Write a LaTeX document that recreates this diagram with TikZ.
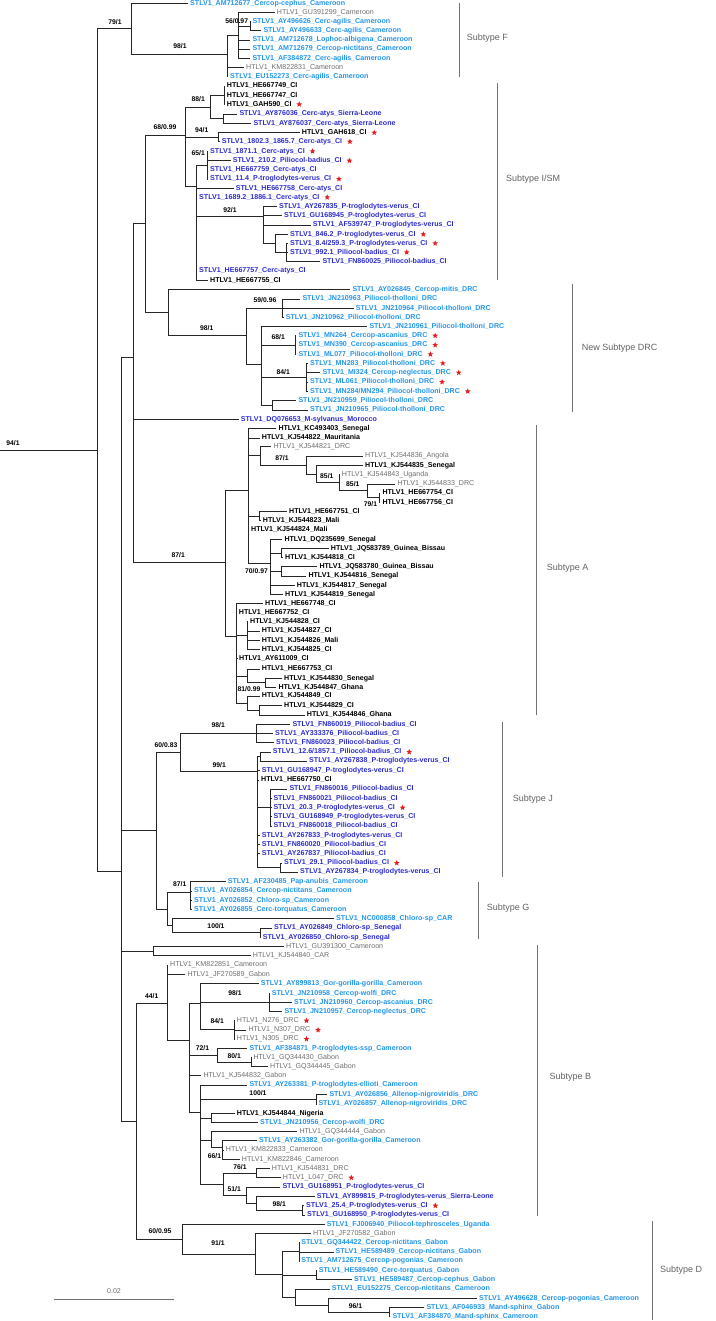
\documentclass[tikz,border=0pt]{standalone}
\usepackage{fontspec}
\setmainfont{Liberation Sans}
\usepackage{xcolor}
\usepackage{tikz}
\usetikzlibrary{shapes.geometric}
\definecolor{colLB}{RGB}{36,150,235}
\definecolor{colDB}{RGB}{45,45,205}
\definecolor{colG}{RGB}{110,110,110}
\definecolor{colStar}{RGB}{230,30,30}
\definecolor{colBar}{RGB}{115,115,115}
\tikzset{
  leaf/.style={anchor=west, inner xsep=2pt, inner ysep=0pt, text height=5.1pt, text depth=1.3pt,
    font=\fontsize{7.1}{8}\selectfont\bfseries},
  stlvL/.style={leaf, text=colLB},
  stlvD/.style={leaf, text=colDB},
  htlvK/.style={leaf, text=black},
  htlvG/.style={leaf, text=colG, font=\fontsize{7.1}{8}\selectfont},
  starmk/.style={star, star points=5, star point ratio=2.3, fill=colStar, draw=none,
    minimum size=6pt, inner sep=0pt},
  starred/.style={label={[starmk, label distance=3.5pt]right:{}}},
  branch/.style={line width=0.8pt, black!85},
  boot/.style={inner sep=0pt, font=\fontsize{6.8}{7}\selectfont\bfseries},
  cladebar/.style={line width=1pt, colBar},
  cladename/.style={anchor=west, inner sep=0pt, text=colBar!85!black, font=\fontsize{9}{10}\selectfont},
}

\begin{document}
\begin{tikzpicture}[x=1pt,y=-1pt]
  \useasboundingbox (0,0) rectangle (715,1321);

  % subtype F
  \node[stlvL] (AM712677) at (188,3.3) {STLV1\_AM712677\_Cercop-cephus\_Cameroon};
  \node[htlvG] (GU391299) at (274.7,12.3) {HTLV1\_GU391299\_Cameroon};
  \node[stlvL] (AY496626) at (250.3,21.7) {STLV1\_AY496626\_Cerc-agilis\_Cameroon};
  \node[stlvL] (AY496633) at (261.3,30.7) {STLV1\_AY496633\_Cerc-agilis\_Cameroon};
  \node[stlvL] (AM712678) at (250.3,40) {STLV1\_AM712678\_Lophoc-albigena\_Cameroon};
  \node[stlvL] (AM712679) at (250.3,49) {STLV1\_AM712679\_Cercop-nictitans\_Cameroon};
  \node[stlvL] (AF384872) at (250.3,58.3) {STLV1\_AF384872\_Cerc-agilis\_Cameroon};
  \node[htlvG] (KM822831) at (244,67.3) {HTLV1\_KM822831\_Cameroon};
  \node[stlvL] (EU152273) at (228,76.7) {STLV1\_EU152273\_Cerc-agilis\_Cameroon};

  % subtype I/SM
  \node[htlvK] (HE667749) at (224.7,86) {HTLV1\_HE667749\_CI};
  \node[htlvK] (HE667747) at (224.7,95.3) {HTLV1\_HE667747\_CI};
  \node[htlvK, starred] (GAH590) at (224.7,104.3) {HTLV1\_GAH590\_CI};
  \node[stlvD] (AY876036) at (237.3,114) {STLV1\_AY876036\_Cerc-atys\_Sierra-Leone};
  \node[stlvD] (AY876037) at (251.3,123.3) {STLV1\_AY876037\_Cerc-atys\_Sierra-Leone};
  \node[htlvK, starred] (GAH618) at (299.7,132.7) {HTLV1\_GAH618\_CI};
  \node[stlvD, starred] (s1802) at (219.7,141.7) {STLV1\_1802.3\_1865.7\_Cerc-atys\_CI};
  \node[stlvD, starred] (s1871) at (208,151.3) {STLV1\_1871.1\_Cerc-atys\_CI};
  \node[stlvD, starred] (s210) at (230.7,160.7) {STLV1\_210.2\_Piliocol-badius\_CI};
  \node[stlvD] (HE667759) at (208,170) {STLV1\_HE667759\_Cerc-atys\_CI};
  \node[stlvD, starred] (s11) at (208,179) {STLV1\_11.4\_P-troglodytes-verus\_CI};
  \node[stlvD] (HE667758) at (233.7,188.3) {STLV1\_HE667758\_Cerc-atys\_CI};
  \node[stlvD, starred] (s1689) at (197,197.3) {STLV1\_1689.2\_1886.1\_Cerc-atys\_CI};
  \node[stlvD] (AY267835) at (277,206.7) {STLV1\_AY267835\_P-troglodytes-verus\_CI};
  \node[stlvD] (GU168945) at (282,215.7) {STLV1\_GU168945\_P-troglodytes-verus\_CI};
  \node[stlvD] (AF539747) at (310.7,225) {STLV1\_AF539747\_P-troglodytes-verus\_CI};
  \node[stlvD, starred] (s846) at (288,234.3) {STLV1\_846.2\_P-troglodytes-verus\_CI};
  \node[stlvD, starred] (s8) at (288,243.3) {STLV1\_8.4/259.3\_P-troglodytes-verus\_CI};
  \node[stlvD, starred] (s992) at (288,252.3) {STLV1\_992.1\_Piliocol-badius\_CI};
  \node[stlvD] (FN860025) at (320.3,261.7) {STLV1\_FN860025\_Piliocol-badius\_CI};
  \node[stlvD] (HE667757) at (197,271) {STLV1\_HE667757\_Cerc-atys\_CI};
  \node[htlvK] (HE667755) at (208,280.7) {HTLV1\_HE667755\_CI};

  % new subtype DRC
  \node[stlvL] (AY026845) at (350.3,289.3) {STLV1\_AY026845\_Cercop-mitis\_DRC};
  \node[stlvL] (JN210963) at (300.3,299) {STLV1\_JN210963\_Piliocol-tholloni\_DRC};
  \node[stlvL] (JN210964) at (353.7,308.3) {STLV1\_JN210964\_Piliocol-tholloni\_DRC};
  \node[stlvL] (JN210962) at (283.7,317.3) {STLV1\_JN210962\_Piliocol-tholloni\_DRC};
  \node[stlvL] (JN210961) at (367.3,326.7) {STLV1\_JN210961\_Piliocol-tholloni\_DRC};
  \node[stlvL, starred] (MN264) at (296.3,335.7) {STLV1\_MN264\_Cercop-ascanius\_DRC};
  \node[stlvL, starred] (MN390) at (296.3,345) {STLV1\_MN390\_Cercop-ascanius\_DRC};
  \node[stlvL, starred] (ML077) at (296.3,354.3) {STLV1\_ML077\_Piliocol-tholloni\_DRC};
  \node[stlvL, starred] (MN283) at (308,363.3) {STLV1\_MN283\_Piliocol-tholloni\_DRC};
  \node[stlvL, starred] (MI324) at (320.3,372.7) {STLV1\_MI324\_Cercop-neglectus\_DRC};
  \node[stlvL, starred] (ML061) at (308,382) {STLV1\_ML061\_Piliocol-tholloni\_DRC};
  \node[stlvL, starred] (MN284) at (308,391.3) {STLV1\_MN284/MN294\_Piliocol-tholloni\_DRC};
  \node[stlvL] (JN210959) at (296.3,400.7) {STLV1\_JN210959\_Piliocol-tholloni\_DRC};
  \node[stlvL] (JN210965) at (308,410) {STLV1\_JN210965\_Piliocol-tholloni\_DRC};
  \node[stlvD] (DQ076653) at (238.7,419.3) {STLV1\_DQ076653\_M-sylvanus\_Morocco};

  % subtype A
  \node[htlvK] (KC493403) at (276.3,428.7) {HTLV1\_KC493403\_Senegal};
  \node[htlvK] (KJ544822) at (259.7,438) {HTLV1\_KJ544822\_Mauritania};
  \node[htlvG] (KJ544821) at (271.3,446.7) {HTLV1\_KJ544821\_DRC};
  \node[htlvG] (KJ544836) at (363,456) {HTLV1\_KJ544836\_Angola};
  \node[htlvK] (KJ544835) at (363,465.3) {HTLV1\_KJ544835\_Senegal};
  \node[htlvG] (KJ544843) at (339.7,474.7) {HTLV1\_KJ544843\_Uganda};
  \node[htlvG] (KJ544833) at (395.3,484) {HTLV1\_KJ544833\_DRC};
  \node[htlvK] (HE667754) at (380.3,493) {HTLV1\_HE667754\_CI};
  \node[htlvK] (HE667756) at (380.3,502.3) {HTLV1\_HE667756\_CI};
  \node[htlvK] (HE667751) at (287,511.3) {HTLV1\_HE667751\_CI};
  \node[htlvK] (KJ544823) at (260.7,520.7) {HTLV1\_KJ544823\_Mali};
  \node[htlvK] (KJ544824) at (249,530) {HTLV1\_KJ544824\_Mali};
  \node[htlvK] (DQ235699) at (282.3,539.3) {HTLV1\_DQ235699\_Senegal};
  \node[htlvK] (JQ583789) at (328.7,548.7) {HTLV1\_JQ583789\_Guinea\_Bissau};
  \node[htlvK] (KJ544818) at (283,557.3) {HTLV1\_KJ544818\_CI};
  \node[htlvK] (JQ583780) at (317.3,566.7) {HTLV1\_JQ583780\_Guinea\_Bissau};
  \node[htlvK] (KJ544816) at (306.3,576) {HTLV1\_KJ544816\_Senegal};
  \node[htlvK] (KJ544817) at (294.7,585.3) {HTLV1\_KJ544817\_Senegal};
  \node[htlvK] (KJ544819) at (283,594.3) {HTLV1\_KJ544819\_Senegal};
  \node[htlvK] (HE667748) at (263,603.3) {HTLV1\_HE667748\_CI};
  \node[htlvK] (HE667752) at (236.7,612.7) {HTLV1\_HE667752\_CI};
  \node[htlvK] (KJ544828) at (248,621.7) {HTLV1\_KJ544828\_CI};
  \node[htlvK] (KJ544827) at (259.7,631) {HTLV1\_KJ544827\_CI};
  \node[htlvK] (KJ544826) at (259.7,640.3) {HTLV1\_KJ544826\_Mali};
  \node[htlvK] (KJ544825) at (259.7,649.3) {HTLV1\_KJ544825\_CI};
  \node[htlvK] (AY611009) at (237,658.3) {HTLV1\_AY611009\_CI};
  \node[htlvK] (HE667753) at (259.7,669) {HTLV1\_HE667753\_CI};
  \node[htlvK] (KJ544830) at (282,678.3) {HTLV1\_KJ544830\_Senegal};
  \node[htlvK] (KJ544847) at (276.3,687.3) {HTLV1\_KJ544847\_Ghana};
  \node[htlvK] (KJ544849) at (259.7,696) {HTLV1\_KJ544849\_CI};
  \node[htlvK] (KJ544829) at (282,705.7) {HTLV1\_KJ544829\_CI};
  \node[htlvK] (KJ544846) at (304.7,715) {HTLV1\_KJ544846\_Ghana};

  % subtype J
  \node[stlvD] (FN860019) at (290.3,724.3) {STLV1\_FN860019\_Piliocol-badius\_CI};
  \node[stlvD] (AY333376) at (273,733.3) {STLV1\_AY333376\_Piliocol-badius\_CI};
  \node[stlvD] (FN860023) at (274,742.7) {STLV1\_FN860023\_Piliocol-badius\_CI};
  \node[stlvD, starred] (s12) at (270.7,752) {STLV1\_12.6/1857.1\_Piliocol-badius\_CI};
  \node[stlvD] (AY267838) at (307,761) {STLV1\_AY267838\_P-troglodytes-verus\_CI};
  \node[stlvD] (GU168947) at (259.7,770.5) {STLV1\_GU168947\_P-troglodytes-verus\_CI};
  \node[htlvK] (HE667750) at (259,780) {HTLV1\_HE667750\_CI};
  \node[stlvD] (FN860016) at (287.3,789) {STLV1\_FN860016\_Piliocol-badius\_CI};
  \node[stlvD] (FN860021) at (271.3,798.3) {STLV1\_FN860021\_Piliocol-badius\_CI};
  \node[stlvD, starred] (s20) at (271.3,807.7) {STLV1\_20.3\_P-troglodytes-verus\_CI};
  \node[stlvD] (GU168949) at (271.3,816.7) {STLV1\_GU168949\_P-troglodytes-verus\_CI};
  \node[stlvD] (FN860018) at (271.3,826) {STLV1\_FN860018\_Piliocol-badius\_CI};
  \node[stlvD] (AY267833) at (259.7,835.3) {STLV1\_AY267833\_P-troglodytes-verus\_CI};
  \node[stlvD] (FN860020) at (259.7,844.7) {STLV1\_FN860020\_Piliocol-badius\_CI};
  \node[stlvD] (AY267837) at (259.7,853.7) {STLV1\_AY267837\_Piliocol-badius\_CI};
  \node[stlvD, starred] (s29) at (282,863) {STLV1\_29.1\_Piliocol-badius\_CI};
  \node[stlvD] (AY267834) at (298,872) {STLV1\_AY267834\_P-troglodytes-verus\_CI};

  % subtype G
  \node[stlvL] (AF230485) at (225.7,881.7) {STLV1\_AF230485\_Pap-anubis\_Cameroon};
  \node[stlvL] (AY026854) at (192,891) {STLV1\_AY026854\_Cercop-nictitans\_Cameroon};
  \node[stlvL] (AY026852) at (192,900.3) {STLV1\_AY026852\_Chloro-sp\_Cameroon};
  \node[stlvL] (AY026855) at (192,909.3) {STLV1\_AY026855\_Cerc-torquatus\_Cameroon};
  \node[stlvL] (NC000858) at (334,918.7) {STLV1\_NC000858\_Chloro-sp\_CAR};
  \node[stlvD] (AY026849) at (272,928) {STLV1\_AY026849\_Chloro-sp\_Senegal};
  \node[stlvD] (AY026850) at (260.7,937.3) {STLV1\_AY026850\_Chloro-sp\_Senegal};

  % subtype B
  \node[htlvG] (GU391300) at (284,946.7) {HTLV1\_GU391300\_Cameroon};
  \node[htlvG] (KJ544840) at (250.7,955.7) {HTLV1\_KJ544840\_CAR};
  \node[htlvG] (KM822851) at (168,965) {HTLV1\_KM822851\_Cameroon};
  \node[htlvG] (JF270589) at (185.3,974.3) {HTLV1\_JF270589\_Gabon};
  \node[stlvL] (AY899813) at (258.7,983.7) {STLV1\_AY899813\_Gor-gorilla-gorilla\_Cameroon};
  \node[stlvL] (JN210958) at (269.7,993.3) {STLV1\_JN210958\_Cercop-wolfi\_DRC};
  \node[stlvL] (JN210960) at (292,1002.3) {STLV1\_JN210960\_Cercop-ascanius\_DRC};
  \node[stlvL] (JN210957) at (282.3,1011.7) {STLV1\_JN210957\_Cercop-neglectus\_DRC};
  \node[htlvG, starred] (N276) at (234.7,1020.7) {HTLV1\_N276\_DRC};
  \node[htlvG, starred] (N307) at (246.3,1030) {HTLV1\_N307\_DRC};
  \node[htlvG, starred] (N305) at (234.7,1039) {HTLV1\_N305\_DRC};
  \node[stlvL] (AF384871) at (247.3,1048.3) {STLV1\_AF384871\_P-troglodytes-ssp\_Cameroon};
  \node[htlvG] (GQ344430) at (251.3,1057.3) {HTLV1\_GQ344430\_Gabon};
  \node[htlvG] (GQ344445) at (268,1066.7) {HTLV1\_GQ344445\_Gabon};
  \node[htlvG] (KJ544832) at (201.3,1075.7) {HTLV1\_KJ544832\_Gabon};
  \node[stlvL] (AY263381) at (247.3,1085) {STLV1\_AY263381\_P-troglodytes-ellioti\_Cameroon};
  \node[stlvL] (AY026856) at (327.3,1094.3) {STLV1\_AY026856\_Allenop-nigroviridis\_DRC};
  \node[stlvL] (AY026857) at (316.3,1104) {STLV1\_AY026857\_Allenop-nigroviridis\_DRC};
  \node[htlvK] (KJ544844) at (234.7,1113.3) {HTLV1\_KJ544844\_Nigeria};
  \node[stlvL] (JN210956) at (258,1122.7) {STLV1\_JN210956\_Cercop-wolfi\_DRC};
  \node[htlvG] (GQ344444) at (297.3,1131.7) {HTLV1\_GQ344444\_Gabon};
  \node[stlvL] (AY263382) at (257,1140.7) {STLV1\_AY263382\_Gor-gorilla-gorilla\_Cameroon};
  \node[htlvG] (KM822833) at (223.7,1150) {HTLV1\_KM822833\_Cameroon};
  \node[htlvG] (KM822846) at (239.7,1159.3) {HTLV1\_KM822846\_Cameroon};
  \node[htlvG] (KJ544831) at (269.7,1168.3) {HTLV1\_KJ544831\_DRC};
  \node[htlvG, starred] (L047) at (280.7,1177.7) {HTLV1\_L047\_DRC};
  \node[stlvD] (GU168951) at (280.3,1187) {STLV1\_GU168951\_P-troglodytes-verus\_CI};
  \node[stlvD] (AY899815) at (314.7,1196.3) {STLV1\_AY899815\_P-troglodytes-verus\_Sierra-Leone};
  \node[stlvD, starred] (s25) at (304,1205.7) {STLV1\_25.4\_P-troglodytes-verus\_CI};
  \node[stlvD] (GU168950) at (305,1215) {STLV1\_GU168950\_P-troglodytes-verus\_CI};

  % subtype D
  \node[stlvL] (FJ006940) at (324.6,1224.3) {STLV1\_FJ006940\_Piliocol-tephrosceles\_Uganda};
  \node[htlvG] (JF270582) at (311,1233.3) {HTLV1\_JF270582\_Gabon};
  \node[stlvL] (GQ344422) at (299.1,1242.7) {STLV1\_GQ344422\_Cercop-nictitans\_Gabon};
  \node[stlvL] (HE589489) at (333.5,1252) {STLV1\_HE589489\_Cercop-nictitans\_Gabon};
  \node[stlvL] (AM712675) at (299.1,1261) {STLV1\_AM712675\_Cercop-pogonias\_Cameroon};
  \node[stlvL] (HE589490) at (316.7,1270.3) {STLV1\_HE589490\_Cerc-torquatus\_Gabon};
  \node[stlvL] (HE589487) at (352,1279.7) {STLV1\_HE589487\_Cercop-cephus\_Gabon};
  \node[stlvL] (EU152275) at (329.6,1289) {STLV1\_EU152275\_Cercop-nictitans\_Cameroon};
  \node[stlvL] (AY496628) at (477,1298.3) {STLV1\_AY496628\_Cercop-pogonias\_Cameroon};
  \node[stlvL] (AF046933) at (424.3,1307.7) {STLV1\_AF046933\_Mand-sphinx\_Gabon};
  \node[stlvL] (AF384870) at (390.3,1316.7) {STLV1\_AF384870\_Mand-sphinx\_Cameroon};

  % internal nodes
  \coordinate (root) at (0,450);
  \coordinate (nR1) at (97.3,450);
  \coordinate (n79) at (131.7,28.7);
  \coordinate (nF1) at (227.3,54);
  \coordinate (nF2) at (238.3,35.3);
  \coordinate (nF3) at (250,26.2);
  \coordinate (n3) at (121.7,871.7);
  \coordinate (n2) at (133.3,357);
  \coordinate (n68) at (145,223.3);
  \coordinate (nISM) at (185,135);
  \coordinate (nI1) at (210,107);
  \coordinate (nI88) at (224,95.3);
  \coordinate (nI2) at (223.3,118.7);
  \coordinate (nI94) at (218.3,137.2);
  \coordinate (nI3) at (196,186.7);
  \coordinate (nI65) at (207.3,165.2);
  \coordinate (nP1) at (263.3,216);
  \coordinate (nP2) at (275,243.4);
  \coordinate (nP3) at (286.7,252.5);
  \coordinate (nDRC1) at (168.3,312.7);
  \coordinate (nDRC2) at (246.7,335);
  \coordinate (n59) at (282.7,308.2);
  \coordinate (nDRC3) at (261,364);
  \coordinate (n68b) at (295,345);
  \coordinate (n84) at (306.7,377.3);
  \coordinate (n59b) at (272.7,405.3);
  \coordinate (nA) at (225,562.3);
  \coordinate (nA0) at (248.3,490);
  \coordinate (nA1) at (260,455.8);
  \coordinate (nA2) at (306,465);
  \coordinate (nA3) at (316.7,474);
  \coordinate (n85a) at (339.3,482.8);
  \coordinate (n85b) at (367.3,490.8);
  \coordinate (n79b) at (379.3,497.7);
  \coordinate (nA4) at (259.3,516);
  \coordinate (nA5) at (270,563);
  \coordinate (nA6) at (281.7,553);
  \coordinate (nA7) at (281.7,571.3);
  \coordinate (nA8) at (236.7,636);
  \coordinate (nA9) at (247.3,635.5);
  \coordinate (nA10) at (247.3,675.9);
  \coordinate (n81) at (265,682.8);
  \coordinate (nA11) at (247.3,703.2);
  \coordinate (nA12) at (259,710.4);
  \coordinate (nJG) at (156.7,830);
  \coordinate (nJ60) at (180,752.2);
  \coordinate (nJ98) at (256.7,733.5);
  \coordinate (nJ99) at (257.3,771);
  \coordinate (nJ2) at (260,756.5);
  \coordinate (nJ3) at (270.7,807.5);
  \coordinate (nJ4) at (280.7,867.5);
  \coordinate (nG) at (167.3,909);
  \coordinate (nG87) at (190.7,892);
  \coordinate (nG2) at (172.7,925.7);
  \coordinate (nG100) at (260,932.7);
  \coordinate (nB1) at (153.3,951.2);
  \coordinate (nBD) at (136.7,1121);
  \coordinate (nB44) at (167.3,1003.3);
  \coordinate (nB3) at (189.3,1040);
  \coordinate (nB2) at (200,1003);
  \coordinate (nB98) at (269.3,1002.5);
  \coordinate (nB84) at (234,1029.8);
  \coordinate (nB72) at (217.7,1055.2);
  \coordinate (nB80) at (251,1062);
  \coordinate (nB4) at (200,1112);
  \coordinate (nB100) at (316.7,1099.2);
  \coordinate (nB5) at (211.7,1118);
  \coordinate (nB6) at (211.7,1140);
  \coordinate (nB66) at (222.7,1147);
  \coordinate (nB8) at (223.3,1184.1);
  \coordinate (nB76) at (256.7,1173);
  \coordinate (nB51) at (246,1195.2);
  \coordinate (nB7) at (256,1203.3);
  \coordinate (nB98b) at (302.7,1210.3);
  \coordinate (nD) at (181.9,1239);
  \coordinate (nD91) at (255,1253.9);
  \coordinate (nD4) at (282.4,1274.5);
  \coordinate (nD3) at (299,1251.8);
  \coordinate (nD5) at (316,1275);
  \coordinate (nD6) at (295.3,1297.1);
  \coordinate (nD7) at (328.5,1305.3);
  \coordinate (nD96) at (389,1312.2);

  % branches
  \draw[branch] (root) -- (nR1);
  \foreach \p/\c in {
    nR1/n79, nR1/n3,
    n79/AM712677, n79/nF1,
    nF1/nF2, nF1/KM822831, nF1/EU152273,
    nF2/GU391299, nF2/nF3, nF2/AM712678, nF2/AM712679, nF2/AF384872,
    nF3/AY496626, nF3/AY496633,
    n3/n2, n3/nJG, n3/nB1, n3/nBD,
    n2/n68, n2/DQ076653, n2/nA,
    n68/nISM, n68/nDRC1,
    nISM/nI1, nISM/nI94, nISM/nI3,
    nI1/nI88, nI1/nI2,
    nI88/HE667749, nI88/HE667747, nI88/GAH590,
    nI2/AY876036, nI2/AY876037,
    nI94/GAH618, nI94/s1802,
    nI3/nI65, nI3/HE667758, nI3/s1689, nI3/nP1, nI3/HE667757, nI3/HE667755,
    nI65/s1871, nI65/s210, nI65/HE667759, nI65/s11,
    nP1/AY267835, nP1/GU168945, nP1/AF539747, nP1/nP2,
    nP2/s846, nP2/nP3,
    nP3/s8, nP3/s992, nP3/FN860025,
    nDRC1/AY026845, nDRC1/nDRC2,
    nDRC2/n59, nDRC2/nDRC3,
    n59/JN210963, n59/JN210964, n59/JN210962,
    nDRC3/JN210961, nDRC3/n68b, nDRC3/n84, nDRC3/n59b,
    n68b/MN264, n68b/MN390, n68b/ML077,
    n84/MN283, n84/MI324, n84/ML061, n84/MN284,
    n59b/JN210959, n59b/JN210965,
    nA/nA0, nA/nA8,
    nA0/KC493403, nA0/KJ544822, nA0/nA1, nA0/nA4, nA0/KJ544824, nA0/nA5,
    nA1/KJ544821, nA1/nA2,
    nA2/KJ544836, nA2/nA3,
    nA3/KJ544835, nA3/n85a,
    n85a/KJ544843, n85a/n85b,
    n85b/KJ544833, n85b/n79b,
    n79b/HE667754, n79b/HE667756,
    nA4/HE667751, nA4/KJ544823,
    nA5/DQ235699, nA5/nA6, nA5/nA7, nA5/KJ544817, nA5/KJ544819,
    nA6/JQ583789, nA6/KJ544818,
    nA7/JQ583780, nA7/KJ544816,
    nA8/HE667748, nA8/HE667752, nA8/nA9, nA8/AY611009, nA8/nA10, nA8/nA11,
    nA9/KJ544828, nA9/KJ544827, nA9/KJ544826, nA9/KJ544825,
    nA10/HE667753, nA10/n81,
    n81/KJ544830, n81/KJ544847,
    nA11/KJ544849, nA11/nA12,
    nA12/KJ544829, nA12/KJ544846,
    nJG/nJ60, nJG/nG,
    nJ60/nJ98, nJ60/nJ99,
    nJ98/FN860019, nJ98/AY333376, nJ98/FN860023,
    nJ99/nJ2, nJ99/GU168947, nJ99/HE667750, nJ99/nJ3, nJ99/AY267833, nJ99/FN860020, nJ99/AY267837, nJ99/nJ4,
    nJ2/s12, nJ2/AY267838,
    nJ3/FN860016, nJ3/FN860021, nJ3/s20, nJ3/GU168949, nJ3/FN860018,
    nJ4/s29, nJ4/AY267834,
    nG/nG87, nG/nG2,
    nG87/AF230485, nG87/AY026854, nG87/AY026852, nG87/AY026855,
    nG2/NC000858, nG2/nG100,
    nG100/AY026849, nG100/AY026850,
    nB1/GU391300, nB1/KJ544840,
    nBD/nB44, nBD/nD,
    nB44/KM822851, nB44/JF270589, nB44/nB3,
    nB3/nB2, nB3/nB72, nB3/KJ544832, nB3/nB4,
    nB2/AY899813, nB2/nB98, nB2/nB84,
    nB98/JN210958, nB98/JN210960, nB98/JN210957,
    nB84/N276, nB84/N307, nB84/N305,
    nB72/AF384871, nB72/nB80,
    nB80/GQ344430, nB80/GQ344445,
    nB4/AY263381, nB4/nB100, nB4/nB5, nB4/nB6, nB4/nB8,
    nB100/AY026856, nB100/AY026857,
    nB5/KJ544844, nB5/JN210956,
    nB6/GQ344444, nB6/nB66,
    nB66/AY263382, nB66/KM822833, nB66/KM822846,
    nB8/nB76, nB8/nB51,
    nB76/KJ544831, nB76/L047,
    nB51/GU168951, nB51/nB7,
    nB7/AY899815, nB7/nB98b,
    nB98b/s25, nB98b/GU168950,
    nD/FJ006940, nD/nD91,
    nD91/JF270582, nD91/nD4,
    nD4/nD3, nD4/nD5, nD4/nD6,
    nD3/GQ344422, nD3/HE589489, nD3/AM712675,
    nD5/HE589490, nD5/HE589487,
    nD6/EU152275, nD6/nD7,
    nD7/AY496628, nD7/nD96,
    nD96/AF046933, nD96/AF384870}
    \draw[branch] (\p) |- (\c);

  % support values
  \node[boot] (bRoot) at (13,443) {94/1};
  \node[boot] (b79) at (115,21.7) {79/1};
  \node[boot] (b56) at (236.7,21) {56/0.97};
  \node[boot] (bF98) at (180,45.7) {98/1};
  \node[boot] (b88) at (198.3,99) {88/1};
  \node[boot] (b68i) at (165,126.7) {68/0.99};
  \node[boot] (b94) at (201.7,130) {94/1};
  \node[boot] (b65) at (198.3,152.7) {65/1};
  \node[boot] (b92) at (230,210) {92/1};
  \node[boot] (b59) at (265,300) {59/0.96};
  \node[boot] (bR98) at (206.7,328) {98/1};
  \node[boot] (b68) at (278.3,336.7) {68/1};
  \node[boot] (bR84) at (283.3,371.7) {84/1};
  \node[boot] (bA87i) at (282,458.3) {87/1};
  \node[boot] (b85a) at (326.8,476) {85/1};
  \node[boot] (b85b) at (352.8,484) {85/1};
  \node[boot] (bA79) at (370.5,504) {79/1};
  \node[boot] (bA87) at (178.3,555) {87/1};
  \node[boot] (b70) at (256.5,571) {70/0.97};
  \node[boot] (b81) at (249,689) {81/0.99};
  \node[boot] (bJ98) at (218.3,725) {98/1};
  \node[boot] (b60j) at (166,745) {60/0.83};
  \node[boot] (b99) at (219.3,765) {99/1};
  \node[boot] (bG87) at (179.7,884) {87/1};
  \node[boot] (bG100) at (216,926) {100/1};
  \node[boot] (b44) at (151.7,996) {44/1};
  \node[boot] (bB98) at (235,993.3) {98/1};
  \node[boot] (bB84) at (217.3,1020.7) {84/1};
  \node[boot] (b72) at (202.5,1048.3) {72/1};
  \node[boot] (b80) at (234.3,1056.5) {80/1};
  \node[boot] (bB100) at (258,1093.5) {100/1};
  \node[boot] (b66) at (214.5,1156) {66/1};
  \node[boot] (b76) at (240,1167) {76/1};
  \node[boot] (b51) at (234.3,1189.3) {51/1};
  \node[boot] (bB98b) at (279.3,1204) {98/1};
  \node[boot] (b60d) at (160,1230.7) {60/0.95};
  \node[boot] (b91) at (218,1243.3) {91/1};
  \node[boot] (b96) at (355.5,1306) {96/1};

  % subtype brackets
  \draw[cladebar] (459.3,3.3) -- (459.3,76.7);
  \node[cladename] (subF) at (466.7,38.3) {Subtype F};
  \draw[cladebar] (497.3,83.3) -- (497.3,280);
  \node[cladename] (subI) at (506,179) {Subtype I/SM};
  \draw[cladebar] (572.7,284) -- (572.7,411.7);
  \node[cladename] (subDRC) at (581.7,348.3) {New Subtype DRC};
  \draw[cladebar] (536,425) -- (536,715);
  \node[cladename] (subA) at (546.7,567.7) {Subtype A};
  \draw[cladebar] (502.7,721.7) -- (502.7,876.7);
  \node[cladename] (subJ) at (512.7,799) {Subtype J};
  \draw[cladebar] (478.3,881.7) -- (478.3,939.3);
  \node[cladename] (subG) at (486.7,908.3) {Subtype G};
  \draw[cladebar] (537.3,945) -- (537.3,1216);
  \node[cladename] (subB) at (549.3,1077) {Subtype B};
  \draw[cladebar] (652,1221) -- (652,1320);
  \node[cladename] (subD) at (660,1270) {Subtype D};

  % scale bar
  \draw[branch, colG] (53.6,1299.3) -- (174,1299.3);
  \node[inner sep=0pt, text=colG, font=\fontsize{7}{8}\selectfont] (scale) at (114,1291) {0.02};
\end{tikzpicture}
\end{document}
